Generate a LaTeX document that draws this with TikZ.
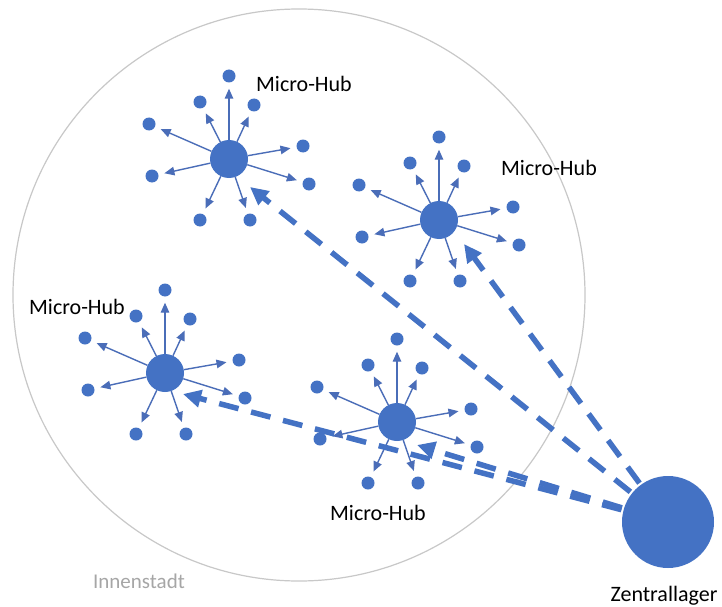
\documentclass[tikz,border=0pt]{standalone}
\usepackage{fontspec}
\setmainfont{Carlito}
\usetikzlibrary{arrows.meta}
\definecolor{hubblue}{HTML}{4472C4}
\definecolor{spokeblue}{HTML}{4A6DB8}
\definecolor{ringgray}{HTML}{C8C8C8}
\definecolor{txtgray}{HTML}{A6A6A6}
\tikzset{
  hubc/.style={circle, fill=hubblue, minimum size=38pt, inner sep=0pt},
  dotc/.style={circle, fill=hubblue, minimum size=13pt, inner sep=0pt},
  spoke/.style={draw=spokeblue, line width=1.4pt, -{Triangle[length=10pt,width=8.5pt]}, shorten >=6pt},
  feed/.style={draw=hubblue, line width=5.5pt, dash pattern=on 20pt off 13pt, -{Triangle[length=18pt,width=17pt]}, shorten <=2pt},
  lbl/.style={font=\fontsize{22}{26}\selectfont, text=black, inner sep=0pt},
  lblz/.style={font=\fontsize{22}{26}\selectfont, text=black, inner sep=0pt},
  lblg/.style={font=\fontsize{21}{25}\selectfont, text=txtgray, inner sep=0pt}
}
\begin{document}
\begin{tikzpicture}[x=1pt,y=-1pt]
\useasboundingbox (0,0) rectangle (722,607);
\fill[white] (0,0) rectangle (722,607);
% city ring
\draw[ringgray, line width=1.2pt] (299,295) circle (286pt);
\node[lblg] (inn) at (139,581) {Innenstadt};
% hubs
\node[hubc] (h1) at (229,159) {};
\node[hubc] (h2) at (439,220) {};
\node[hubc] (h3) at (165,373) {};
\node[hubc] (h4) at (397,422) {};
\foreach \h in {h1,h2,h3,h4} {
  \foreach \n/\dx/\dy in {1/0/-83, 2/-29/-57, 3/25/-54, 4/-80/-35, 5/74/-13, 6/-77/17, 7/80/25, 8/-29/61, 9/21/61} {
    \node[dotc] (\h d\n) at ([shift={(\dx,\dy)}]\h) {};
    \draw[spoke] (\h) -- (\h d\n);
  }
}
% labels
\node[lbl] (l1) at (304,84) {Micro-Hub};
\node[lbl] (l2) at (549,168) {Micro-Hub};
\node[lbl] (l3) at (77,307) {Micro-Hub};
\node[lbl] (l4) at (378,513) {Micro-Hub};
% central warehouse
\node[circle, fill=hubblue, minimum size=92pt, inner sep=0pt] (zl) at (668,522) {};
\node[lblz] (zlt) at (664,596) {Zentrallager};
% feeder routes
\coordinate (t1) at (250,187);
\coordinate (t2) at (464,244);
\coordinate (t3) at (183,394);
\coordinate (t4) at (417,445);
\draw[feed] (zl) -- (t1);
\draw[feed] (zl) -- (t2);
\draw[feed] (zl) -- (t3);
\draw[feed] (zl) -- (t4);
\end{tikzpicture}
\end{document}
